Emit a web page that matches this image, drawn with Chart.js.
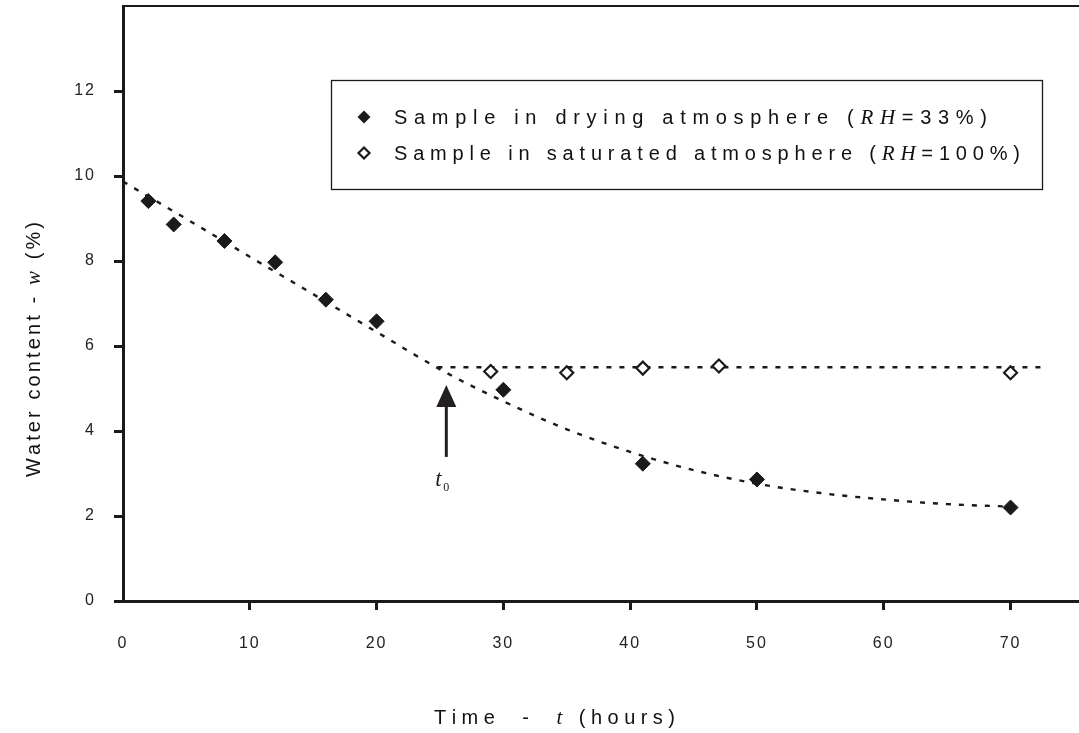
<!DOCTYPE html>
<html>
<head>
<meta charset="utf-8">
<script src="https://cdn.jsdelivr.net/npm/chart.js@4.4.0/dist/chart.umd.min.js"></script>
<style>
    html, body { margin: 0; padding: 0; background: #fff; }
    #wrap { width: 1079px; height: 733px; }
</style>
</head>
<body>
<div id="wrap"><canvas id="waterChart" width="1079" height="733"></canvas></div>
<script>
// measured points
const dryingTime = [2, 4, 8, 12, 16, 20, 30, 41, 50, 70];
const dryingWater = [9.41, 8.86, 8.47, 7.97, 7.09, 6.58, 4.97, 3.23, 2.86, 2.20];
const saturatedTime = [29, 35, 41, 47, 70];
const saturatedWater = [5.40, 5.37, 5.48, 5.53, 5.37];

// fitted curves (dotted)
const dryingFitTime = [0, 5, 10, 15, 20, 25.5, 30, 35, 40, 45, 50, 55, 60, 65, 70];
const dryingFitWater = [9.87, 8.99, 8.10, 7.22, 6.33, 5.37, 4.70, 4.04, 3.51, 3.08, 2.76, 2.54, 2.39, 2.28, 2.22];
const saturatedFitTime = [24.8, 72.5];
const saturatedFitWater = [5.5, 5.5];

// t0 marker
const t0Time = 25.5;
const t0ArrowFrom = 3.39;
const t0ArrowTo = 5.08;

const xTicks = [0, 10, 20, 30, 40, 50, 60, 70];
const yTicks = [0, 2, 4, 6, 8, 10, 12];

const legendLabels = [
    [{text: 'Sample in drying atmosphere (', italic: false}, {text: 'RH', italic: true}, {text: '=33%)', italic: false}],
    [{text: 'Sample in saturated atmosphere (', italic: false}, {text: 'RH', italic: true}, {text: '=100%)', italic: false}]
];

const SANS = "'Liberation Sans', Arial, sans-serif";
const SERIF = "'Liberation Serif', 'Times New Roman', serif";
const INK = '#1a1a1a';

function toPoints(xs, ys) {
    return xs.map((x, i) => ({x: x, y: ys[i]}));
}

// draws text runs char by char, spread out to fill the given width
function drawSpaced(ctx, runs, x, y, width, size) {
    let chars = [];
    let natural = 0;

    for (let run of runs) {
        let font = run.italic ? `italic ${size + 1}px ${SERIF}` : `${size}px ${SANS}`;
        for (let c of run.text) {
            ctx.font = font;
            let w = ctx.measureText(c).width;
            chars.push({c: c, font: font, w: w});
            natural += w;
        }
    }

    let gap = (width - natural) / (chars.length - 1);

    for (let o of chars) {
        ctx.font = o.font;
        ctx.fillText(o.c, x, y);
        x += o.w + gap;
    }
}

function diamond(ctx, x, y, r, filled) {
    ctx.beginPath();
    ctx.moveTo(x - r, y);
    ctx.lineTo(x, y - r);
    ctx.lineTo(x + r, y);
    ctx.lineTo(x, y + r);
    ctx.closePath();
    if (filled) {
        ctx.fillStyle = INK;
        ctx.fill();
    } else {
        ctx.fillStyle = '#fff';
        ctx.fill();
        ctx.lineWidth = 2.2;
        ctx.strokeStyle = INK;
        ctx.stroke();
    }
}

const decorPlugin = {
    id: 'decor',
    beforeDraw(chart) {
        chart.ctx.letterSpacing = '2px';
    },
    afterDraw(chart) {
        let ctx = chart.ctx;
        let area = chart.chartArea;
        let xs = chart.scales.x;
        let ys = chart.scales.y;

        ctx.save();
        ctx.letterSpacing = '0px';

        // top frame line
        ctx.strokeStyle = INK;
        ctx.lineWidth = 2;
        ctx.beginPath();
        ctx.moveTo(area.left, area.top);
        ctx.lineTo(area.right, area.top);
        ctx.stroke();

        // t0 arrow
        let ax = xs.getPixelForValue(t0Time);
        let aBottom = ys.getPixelForValue(t0ArrowFrom);
        let aTip = ys.getPixelForValue(t0ArrowTo);
        ctx.strokeStyle = '#231f20';
        ctx.fillStyle = '#231f20';
        ctx.lineWidth = 3;
        ctx.beginPath();
        ctx.moveTo(ax, aBottom);
        ctx.lineTo(ax, aTip + 18);
        ctx.stroke();
        ctx.beginPath();
        ctx.moveTo(ax, aTip);
        ctx.lineTo(ax - 10, aTip + 22);
        ctx.lineTo(ax + 10, aTip + 22);
        ctx.closePath();
        ctx.fill();

        ctx.fillStyle = '#222';
        ctx.textBaseline = 'alphabetic';
        ctx.textAlign = 'left';
        ctx.font = `italic 23px ${SERIF}`;
        ctx.fillText('t', ax - 11, aBottom + 29);
        ctx.font = `12px ${SERIF}`;
        ctx.fillText('0', ax - 3, aBottom + 34);

        // legend box
        ctx.strokeStyle = INK;
        ctx.lineWidth = 1.3;
        ctx.strokeRect(331.5, 80.5, 711, 109);
        diamond(ctx, 364, 117, 6.5, true);
        diamond(ctx, 364, 153, 5.5, false);
        ctx.fillStyle = '#111';
        ctx.textBaseline = 'middle';
        drawSpaced(ctx, legendLabels[0], 394, 118, 593, 20);
        drawSpaced(ctx, legendLabels[1], 394, 154, 626, 20);

        // axis titles
        ctx.fillStyle = '#111';
        drawSpaced(ctx, [{text: 'Time  -  ', italic: false}, {text: 't', italic: true}, {text: ' (hours)', italic: false}], 434, 718, 241, 20);

        ctx.translate(34, 350);
        ctx.rotate(-Math.PI / 2);
        drawSpaced(ctx, [{text: 'Water content - ', italic: false}, {text: 'w', italic: true}, {text: ' (%)', italic: false}], -127, 0, 255, 20);

        ctx.restore();
    }
};

new Chart(document.getElementById('waterChart'), {
    type: 'scatter',
    data: {
        datasets: [
            {
                label: 'Sample in drying atmosphere',
                data: toPoints(dryingTime, dryingWater),
                pointStyle: 'rectRot',
                pointRadius: 7.5,
                backgroundColor: INK,
                borderColor: INK,
                borderWidth: 1,
                order: 1
            },
            {
                label: 'Sample in saturated atmosphere',
                data: toPoints(saturatedTime, saturatedWater),
                pointStyle: 'rectRot',
                pointRadius: 6.5,
                backgroundColor: '#fff',
                borderColor: INK,
                borderWidth: 2.2,
                order: 1
            },
            {
                label: 'drying fit',
                data: toPoints(dryingFitTime, dryingFitWater),
                showLine: true,
                pointRadius: 0,
                borderColor: INK,
                borderWidth: 2.4,
                borderDash: [5, 8],
                cubicInterpolationMode: 'monotone',
                order: 2
            },
            {
                label: 'saturated fit',
                data: toPoints(saturatedFitTime, saturatedFitWater),
                showLine: true,
                pointRadius: 0,
                borderColor: INK,
                borderWidth: 2.4,
                borderDash: [5, 8],
                order: 2
            }
        ]
    },
    options: {
        responsive: false,
        animation: false,
        devicePixelRatio: 1,
        layout: {
            autoPadding: false,
            padding: {top: 6, right: 0, bottom: 0, left: 0}
        },
        plugins: {
            legend: {display: false},
            tooltip: {enabled: false}
        },
        scales: {
            x: {
                type: 'linear',
                min: 0,
                max: 75.4,
                afterBuildTicks: scale => { scale.ticks = xTicks.map(v => ({value: v})); },
                afterFit: scale => {
                    scale.height = 132;
                    scale.paddingLeft = 0;
                    scale.paddingRight = 0;
                },
                grid: {
                    drawOnChartArea: false,
                    tickLength: 9,
                    lineWidth: 3,
                    color: c => (c.tick && c.tick.value === 0) ? 'rgba(0,0,0,0)' : INK
                },
                border: {width: 3, color: INK},
                ticks: {
                    font: {size: 16, family: SANS},
                    color: '#222',
                    padding: 24,
                    maxRotation: 0
                }
            },
            y: {
                min: 0,
                max: 14,
                afterBuildTicks: scale => { scale.ticks = yTicks.map(v => ({value: v})); },
                afterFit: scale => {
                    scale.width = 123;
                    scale.paddingTop = 0;
                    scale.paddingBottom = 0;
                },
                grid: {
                    drawOnChartArea: false,
                    tickLength: 9,
                    lineWidth: 3,
                    color: INK
                },
                border: {width: 3, color: INK},
                ticks: {
                    font: {size: 16, family: SANS},
                    color: '#222',
                    padding: 18
                }
            }
        }
    },
    plugins: [decorPlugin]
});
</script>
</body>
</html>
